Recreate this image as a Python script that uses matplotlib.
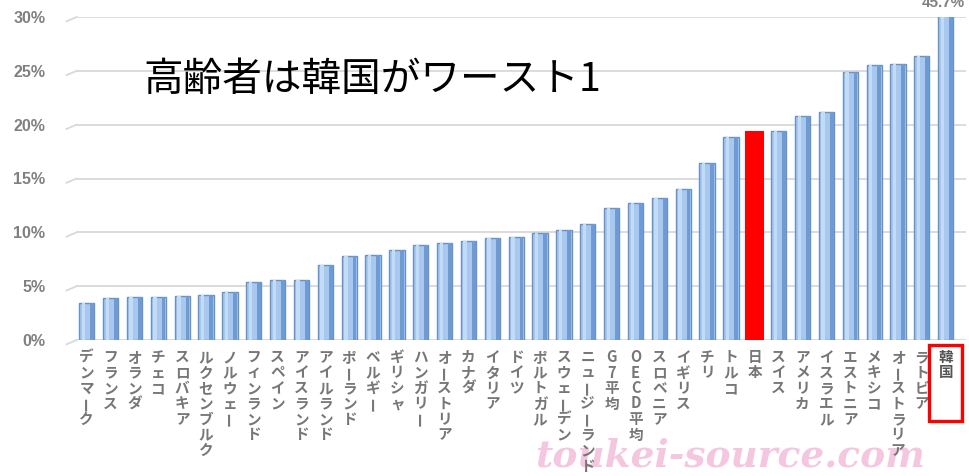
import matplotlib
matplotlib.use('Agg')
import matplotlib.pyplot as plt
from matplotlib.patches import Rectangle

plt.rcParams['font.family'] = ['Noto Sans CJK JP', 'DejaVu Sans']

# 高齢者の相対的貧困率 (%)
countries = ['デンマーク', 'フランス', 'オランダ', 'チェコ', 'スロバキア', 'ルクセンブルク',
             'ノルウェー', 'フィンランド', 'スペイン', 'アイスランド', 'アイルランド', 'ポーランド',
             'ベルギー', 'ギリシャ', 'ハンガリー', 'オーストリア', 'カナダ', 'イタリア', 'ドイツ',
             'ポルトガル', 'スウェーデン', 'ニュージーランド', 'G7平均', 'OECD平均', 'スロベニア',
             'イギリス', 'チリ', 'トルコ', '日本', 'スイス', 'アメリカ', 'イスラエル',
             'エストニア', 'メキシコ', 'オーストラリア', 'ラトビア', '韓国']
rates = [3.4, 3.9, 4.0, 4.0, 4.1, 4.2, 4.5, 5.4, 5.6, 5.6, 7.0, 7.8,
         7.9, 8.4, 8.8, 9.0, 9.2, 9.5, 9.6, 9.9, 10.2, 10.8, 12.3, 12.7, 13.2,
         14.0, 16.4, 18.9, 19.4, 19.4, 20.8, 21.2, 24.9, 25.5, 25.6, 26.4, 45.7]
yticks = [0, 5, 10, 15, 20, 25, 30]
highlight = '日本'
worst = '韓国'

W, H = 970, 476
fig = plt.figure(figsize=(W / 100, H / 100), dpi=100)
ax = fig.add_axes([76 / W, (H - 340) / H, (966 - 76) / W, (340 - 17) / H])

# watermark sits under everything else
fig.text(925 / W, 1 - 456 / H, 'toukei-source.com', fontsize=27, ha='right',
         va='center', color='#f2aed3', alpha=0.7, family='DejaVu Serif',
         fontweight='bold', style='italic', zorder=-1)

x = list(range(len(countries)))
grid_c = '#d9d9d9'
for v in yticks:
    ax.axhline(v, color=grid_c, lw=1.3, zorder=0)
    ax.plot([-0.85, -0.42], [v - 0.4, v], color=grid_c, lw=1.3, clip_on=False, zorder=0)

for i, (name, v) in enumerate(zip(countries, rates)):
    if name == highlight:
        ax.bar(i, v, width=0.8, color='#ff0000', zorder=3)
        continue
    # front face, darker side and lighter cap for the boxy look
    ax.bar(i, v, width=0.64, color='#a8c8ef', edgecolor='#6592c8', lw=1.0, zorder=2)
    ax.bar(i + 0.22, v, width=0.16, color='#6f9bd2', lw=0, zorder=3)
    ax.bar(i - 0.14, v, width=0.14, color='#c4dbf6', lw=0, zorder=3)

ax.set_xlim(-0.45, 36.85)
ax.set_ylim(0, 30)
ax.set_yticks(yticks)
ax.set_yticklabels(['%d%%' % v for v in yticks], fontsize=11.5, fontweight='bold',
                   color='#808080', family='Liberation Sans')
ax.tick_params(axis='y', length=0, pad=22)
ax.set_xticks([])
ax.patch.set_alpha(0)
for s in ax.spines.values():
    s.set_visible(False)

# top of the off-scale bar
ax.annotate('%.1f%%' % rates[-1], xy=(len(rates) - 1, 30), xytext=(-2, 14),
            textcoords='offset pixels', ha='center', va='center', fontsize=11,
            fontweight='bold', color='#808080', family='Liberation Sans',
            annotation_clip=False)

# vertical category labels, one character per row
step = 15.5
for i, name in enumerate(countries):
    col = '#555555' if name == worst else '#777777'
    for k, ch in enumerate(name):
        rot = 90 if ch == 'ー' else 0
        ax.annotate(ch, xy=(i, 0), xycoords=('data', 'axes fraction'),
                    xytext=(0, -10 - k * step - 7), textcoords='offset pixels',
                    ha='center', va='center', fontsize=10.5, fontweight='bold',
                    color=col, rotation=rot, annotation_clip=False)

fig.patches.append(Rectangle((929 / W, 1 - 421 / H), 33 / W, 76 / H,
                             transform=fig.transFigure, fill=False,
                             edgecolor='#ff0000', lw=2.4))

fig.text(143 / W, 1 - 80 / H, '高齢者は韓国がワースト1', fontsize=28.5,
         ha='left', va='center', color='black')

fig.savefig('out.png', dpi=100, facecolor='white')
